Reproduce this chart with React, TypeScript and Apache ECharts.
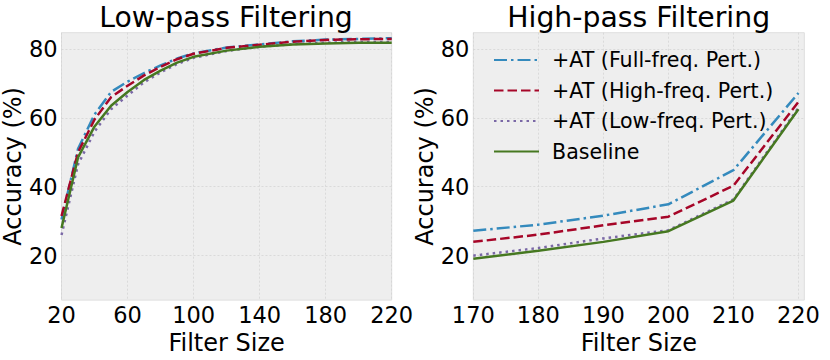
import React, { useEffect, useRef } from "react";
import * as echarts from "echarts";

// ---- Data ----
const lowX = [20, 30, 40, 50, 60, 70, 80, 90, 100, 120, 140, 160, 180, 200, 220];
const lowFull = [30.5, 51, 61, 67.5, 70.5, 73, 75.2, 77.2, 78.7, 80.4, 81.3, 82.2, 82.7, 82.9, 83.1];
const lowHigh = [31.5, 50, 59.5, 66, 69.3, 72.3, 74.8, 77, 78.6, 80.3, 81.2, 82.1, 82.6, 82.8, 82.9];
const lowLow = [26, 46.5, 56, 62.5, 66.5, 70.3, 73.2, 75.6, 77.4, 79.4, 80.6, 81.4, 81.8, 82, 82];
const lowBase = [28, 48.5, 57.5, 63.5, 67.5, 71, 73.7, 76, 77.7, 79.5, 80.6, 81.3, 81.6, 81.8, 81.8];

const highX = [170, 180, 190, 200, 210, 220];
const highFull = [27.2, 29, 31.6, 34.9, 44.8, 67.2];
const highHigh = [24.0, 26.1, 28.8, 31.3, 40.3, 64.6];
const highLow = [20.0, 22.2, 25.0, 27.4, 36.3, 62.9];
const highBase = [19.1, 21.4, 24.0, 27.1, 36.0, 62.5];

const yTicks = [20, 40, 60, 80];
const highXTicks = [170, 180, 190, 200, 210, 220];

const seriesNames = [
  "+AT (Full-freq. Pert.)",
  "+AT (High-freq. Pert.)",
  "+AT (Low-freq. Pert.)",
  "Baseline",
];

const colors = ["#348ABD", "#A60628", "#7A68A6", "#467821"];
const dashes: any[] = [[13, 4, 2.5, 4], [9.5, 4], [2.5, 4], "solid"];

const FONT = '"DejaVu Sans", sans-serif';

export default function App() {
  const ref = useRef<HTMLDivElement>(null);
  useEffect(() => {
    document.body.style.margin = "0";
    if (!ref.current) return;
    const chart = echarts.init(ref.current, undefined, { renderer: "svg" });
    const lowSets = [lowFull, lowHigh, lowLow, lowBase];
    const highSets = [highFull, highHigh, highLow, highBase];
    const series: any[] = [];
    lowSets.forEach((arr, i) => {
      series.push({
        type: "line",
        name: seriesNames[i],
        xAxisIndex: 0,
        yAxisIndex: 0,
        data: lowX.map((x, j) => [x, arr[j]]),
        symbol: "none",
        lineStyle: { color: colors[i], width: 2.5, type: dashes[i] },
        itemStyle: { color: colors[i] },
      });
    });
    highSets.forEach((arr, i) => {
      series.push({
        type: "line",
        name: seriesNames[i],
        xAxisIndex: 1,
        yAxisIndex: 1,
        data: highX.map((x, j) => [x, arr[j]]),
        symbol: "none",
        lineStyle: { color: colors[i], width: 2.5, type: dashes[i] },
        itemStyle: { color: colors[i] },
      });
    });

    const gridStyle = {
      show: true,
      backgroundColor: "#eeeeee",
      borderColor: "#dedede",
      borderWidth: 1,
    };
    const splitLine = {
      show: true,
      lineStyle: { color: "#d4d4d4", width: 0.8, type: [2, 2] },
    };
    const labelStyle = { fontSize: 22.5, color: "#000", fontFamily: FONT };
    const yAxisBase = {
      type: "value",
      min: 7.1,
      max: 84.7,
      axisLine: { show: false },
      axisTick: { show: false, customValues: yTicks },
      axisLabel: { ...labelStyle, margin: 4, customValues: yTicks },
      splitLine,
      name: "Accuracy (%)",
      nameLocation: "middle",
      nameGap: 30,
      nameRotate: 90,
      nameTextStyle: { fontSize: 24, color: "#000", fontFamily: FONT },
    };

    chart.setOption({
      animation: false,
      textStyle: { fontFamily: FONT },
      grid: [
        { left: 60, top: 32.7, width: 331.7, height: 273.3, ...gridStyle },
        { left: 473.3, top: 32.7, width: 331, height: 273.3, ...gridStyle },
      ],
      xAxis: [
        {
          type: "value",
          gridIndex: 0,
          min: 20,
          max: 220,
          interval: 40,
          axisLine: { show: false },
          axisTick: { show: false },
          axisLabel: { ...labelStyle, margin: 3 },
          splitLine,
          name: "Filter Size",
          nameLocation: "middle",
          nameGap: 25,
          nameTextStyle: { fontSize: 24, color: "#000", fontFamily: FONT },
        },
        {
          type: "value",
          gridIndex: 1,
          min: 170,
          max: 220.9,
          axisLine: { show: false },
          axisTick: { show: false, customValues: highXTicks },
          axisLabel: { ...labelStyle, margin: 3, customValues: highXTicks },
          splitLine,
          name: "Filter Size",
          nameLocation: "middle",
          nameGap: 25,
          nameTextStyle: { fontSize: 24, color: "#000", fontFamily: FONT },
        },
      ],
      yAxis: [
        { ...yAxisBase, gridIndex: 0 },
        { ...yAxisBase, gridIndex: 1 },
      ],
      legend: {
        orient: "vertical",
        left: 488,
        top: 44.5,
        itemWidth: 45,
        itemHeight: 14,
        itemGap: 9.5,
        data: seriesNames,
        itemStyle: { opacity: 0 },
        textStyle: { fontSize: 20.6, color: "#000", fontFamily: FONT, padding: [0, 0, 0, 8] },
      },
      graphic: [
        {
          type: "text",
          x: 226,
          y: 17,
          style: {
            text: "Low-pass Filtering",
            font: '28.3px "DejaVu Sans"',
            align: "center",
            verticalAlign: "middle",
            fill: "#000",
          },
        },
        {
          type: "text",
          x: 638.7,
          y: 17,
          style: {
            text: "High-pass Filtering",
            font: '28.3px "DejaVu Sans"',
            align: "center",
            verticalAlign: "middle",
            fill: "#000",
          },
        },
      ],
      series,
    });
    return () => chart.dispose();
  }, []);
  return <div ref={ref} style={{ width: 830, height: 360 }} />;
}
